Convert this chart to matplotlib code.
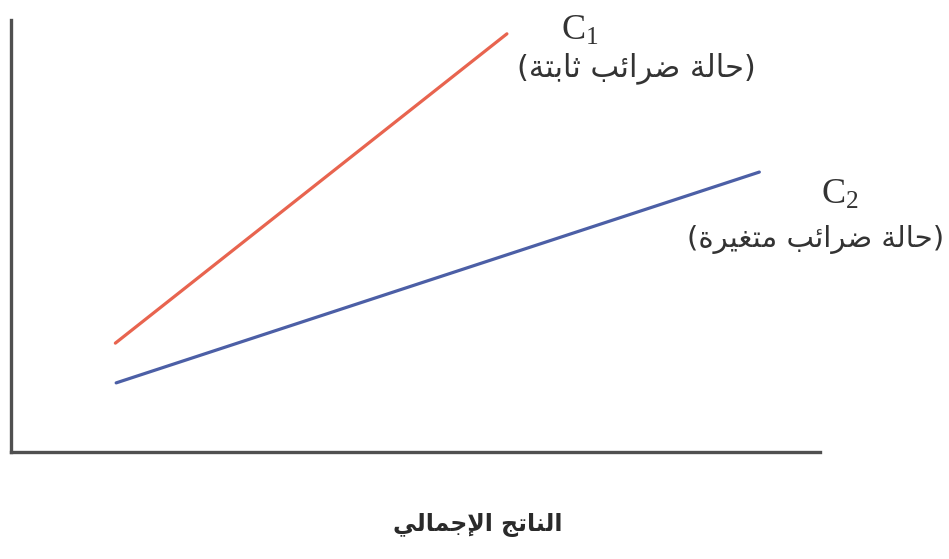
import matplotlib
matplotlib.use("Agg")
import matplotlib.pyplot as plt

# ---- data ----
x_red = [1.29, 6.13]
y_red = [2.52, 9.68]
x_blue = [1.30, 9.25]
y_blue = [1.60, 6.48]
label_c1 = "حالة ضرائب ثابتة"
label_c2 = "حالة ضرائب متغيرة"
xlabel_text = "الناتج الإجمالي"

# ---- minimal Arabic shaping (logical -> visual presentation forms) ----
FORMS = {  # isolated, final, initial, medial
    'ا': ('\uFE8D', '\uFE8E', None, None),
    'إ': ('\uFE87', '\uFE88', None, None),
    'ب': ('\uFE8F', '\uFE90', '\uFE91', '\uFE92'),
    'ة': ('\uFE93', '\uFE94', None, None),
    'ت': ('\uFE95', '\uFE96', '\uFE97', '\uFE98'),
    'ث': ('\uFE99', '\uFE9A', '\uFE9B', '\uFE9C'),
    'ج': ('\uFE9D', '\uFE9E', '\uFE9F', '\uFEA0'),
    'ح': ('\uFEA1', '\uFEA2', '\uFEA3', '\uFEA4'),
    'ر': ('\uFEAD', '\uFEAE', None, None),
    'ض': ('\uFEBD', '\uFEBE', '\uFEBF', '\uFEC0'),
    'غ': ('\uFECD', '\uFECE', '\uFECF', '\uFED0'),
    'ل': ('\uFEDD', '\uFEDE', '\uFEDF', '\uFEE0'),
    'م': ('\uFEE1', '\uFEE2', '\uFEE3', '\uFEE4'),
    'ن': ('\uFEE5', '\uFEE6', '\uFEE7', '\uFEE8'),
    'ي': ('\uFEF1', '\uFEF2', '\uFEF3', '\uFEF4'),
    'ئ': ('\uFE89', '\uFE8A', '\uFE8B', '\uFE8C'),
}
LAM_ALEF = {'ا': ('\uFEFB', '\uFEFC'), 'إ': ('\uFEF9', '\uFEFA')}


def joins_left(ch):
    f = FORMS.get(ch)
    return f is not None and f[2] is not None


def shape(text):
    chars = list(text)
    out = []
    i = 0
    while i < len(chars):
        c = chars[i]
        prev = chars[i - 1] if i > 0 else None
        prev_joins = prev is not None and joins_left(prev)
        if c == 'ل' and i + 1 < len(chars) and chars[i + 1] in LAM_ALEF:
            iso, fin = LAM_ALEF[chars[i + 1]]
            out.append(fin if prev_joins else iso)
            i += 2
            continue
        if c in FORMS:
            iso, fin, ini, med = FORMS[c]
            nxt = chars[i + 1] if i + 1 < len(chars) else None
            next_joins = nxt is not None and nxt in FORMS and ini is not None
            if prev_joins and next_joins:
                out.append(med)
            elif prev_joins:
                out.append(fin)
            elif next_joins:
                out.append(ini)
            else:
                out.append(iso)
        else:
            out.append(c)
        i += 1
    vis = ''.join(reversed(out))
    return vis.translate(str.maketrans('()', ')('))


AR_FONT = ['DejaVu Sans']
plt.rcParams['mathtext.fontset'] = 'custom'
plt.rcParams['mathtext.rm'] = 'Liberation Serif'
plt.rcParams['mathtext.it'] = 'Liberation Serif'

fig = plt.figure(figsize=(9.49, 5.59), dpi=100)
fig.patch.set_facecolor('white')
ax = fig.add_axes([11 / 949, 1 - 452 / 559, (820 - 11) / 949, (452 - 20) / 559])
ax.set_xlim(0, 10)
ax.set_ylim(0, 10)
ax.set_facecolor('none')

ax.plot(x_red, y_red, color='#e8644f', lw=2.3, solid_capstyle='round')
ax.plot(x_blue, y_blue, color='#4c5fa6', lw=2.3, solid_capstyle='round')

for s in ['top', 'right']:
    ax.spines[s].set_visible(False)
for s in ['left', 'bottom']:
    ax.spines[s].set_color('#505050')
    ax.spines[s].set_linewidth(2.4)
ax.set_xticks([])
ax.set_yticks([])

ax.text(7.03, 9.78, r'$\mathrm{C}_{1}$', fontsize=26, ha='center', va='center',
        color='#333333', clip_on=False)
ax.text(7.73, 8.89, shape('(' + label_c1 + ')'), fontsize=22, ha='center', va='center',
        family=AR_FONT, color='#333333', clip_on=False)
ax.text(10.25, 5.98, r'$\mathrm{C}_{2}$', fontsize=26, ha='center', va='center',
        color='#333333', clip_on=False)
ax.text(9.95, 4.91, shape('(' + label_c2 + ')'), fontsize=21, ha='center', va='center',
        family=AR_FONT, color='#333333', clip_on=False)

fig.text(478 / 949, 1 - 525 / 559, shape(xlabel_text), fontsize=17, fontweight='bold',
         ha='center', va='center', family=AR_FONT, color='#2a2a2a')

fig.savefig('out.png', dpi=100)
